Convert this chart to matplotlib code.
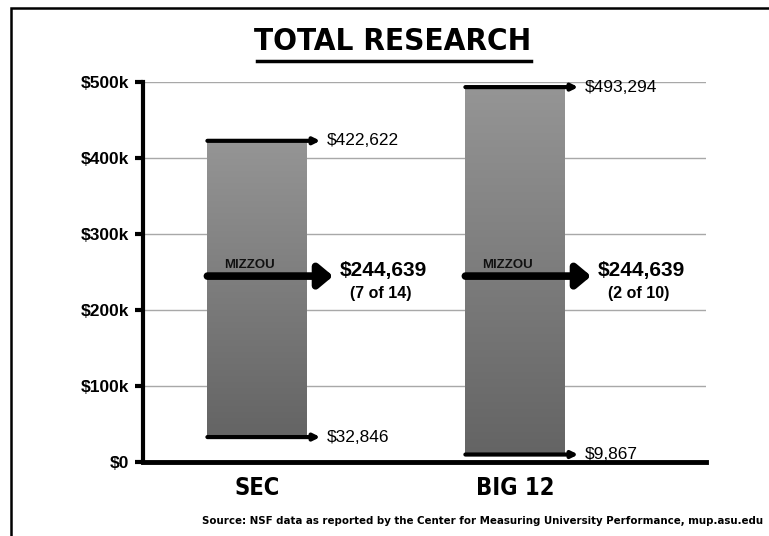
import numpy as np
import matplotlib.pyplot as plt
from matplotlib.patches import Rectangle
from matplotlib.colors import LinearSegmentedColormap

# Dati
groups = ['SEC', 'BIG 12']
highs = [422622, 493294]
lows = [32846, 9867]
mizzou = [244639, 244639]
ranks = ['(7 of 14)', '(2 of 10)']
yticks = [0, 100000, 200000, 300000, 400000, 500000]
ytick_labels = ['$0', '$100k', '$200k', '$300k', '$400k', '$500k']

plain = ['Liberation Sans', 'DejaVu Sans']
cond = dict(fontfamily='DejaVu Sans', fontstretch='condensed', fontweight='bold')

fig = plt.figure(figsize=(7.69, 5.36), dpi=100)
ax = fig.add_axes([0.186, 0.138, 0.732, 0.709])

x = np.arange(len(groups))
bar_w = 0.385
ax.set_xlim(-0.442, 1.74)
ax.set_ylim(0, 500000)

# griglia
for t in yticks[1:]:
    ax.axhline(t, color='#a8a8a8', lw=1, zorder=1)

# barre con sfumatura (chiaro in alto, scuro in basso)
cmap = LinearSegmentedColormap.from_list('bar', ['#959595', '#646464'])
grad = np.linspace(0, 1, 256).reshape(-1, 1)
for xi, lo, hi in zip(x, lows, highs):
    ax.imshow(grad, cmap=cmap, aspect='auto',
              extent=[xi - bar_w / 2, xi + bar_w / 2, lo, hi], zorder=2,
              origin='upper')

# frecce massimo / minimo
for xi, lo, hi in zip(x, lows, highs):
    for v in (hi, lo):
        ax.annotate('', xy=(xi + 0.245, v), xytext=(xi - bar_w / 2, v),
                    arrowprops=dict(arrowstyle='-|>', lw=3, color='black',
                                    mutation_scale=9, shrinkA=0, shrinkB=0),
                    zorder=4)
        ax.text(xi + 0.27, v, f'${v:,}', va='center', ha='left',
                fontsize=12.5, fontfamily=plain, color='black')

# freccia Mizzou
for xi, m, r in zip(x, mizzou, ranks):
    ax.annotate('', xy=(xi + 0.295, m), xytext=(xi - bar_w / 2, m),
                arrowprops=dict(arrowstyle='-|>,head_width=0.5,head_length=0.6',
                                lw=5.5, color='black', mutation_scale=14,
                                shrinkA=0, shrinkB=0),
                zorder=5)
    ax.text(xi - 0.03, m + 7000, 'MIZZOU', ha='center', va='bottom',
            fontsize=9.5, fontweight='bold', fontfamily=plain, color='#111111',
            zorder=5)
    ax.text(xi + 0.49, m, f'${m:,}', ha='center', va='baseline',
            fontsize=15, fontweight='bold', fontfamily=plain)
    ax.text(xi + 0.48, m - 13000, r, ha='center', va='top',
            fontsize=11.5, fontweight='bold', fontfamily=plain)

# assi
for s in ['top', 'right', 'bottom']:
    ax.spines[s].set_visible(False)
ax.spines['left'].set_linewidth(3)
ax.axhline(0, color='black', lw=3.5, zorder=6, clip_on=False)
ax.set_yticks(yticks)
ax.set_yticklabels(ytick_labels, fontsize=12.5, fontweight='bold', fontfamily=plain)
ax.tick_params(axis='y', length=6, width=3, pad=4)
ax.set_xticks(x)
ax.set_xticklabels(groups, fontsize=17, **cond)
ax.tick_params(axis='x', length=0, pad=10)

# titolo
fig.text(0.511, 0.922, 'TOTAL RESEARCH', ha='center', va='center',
         fontsize=22.5, **cond)
fig.add_artist(plt.Line2D([0.334, 0.69], [0.886, 0.886], color='black', lw=2.5))

# fonte
fig.text(0.993, 0.028, 'Source: NSF data as reported by the Center for Measuring '
         'University Performance, mup.asu.edu', ha='right', va='center',
         fontsize=8.2, **cond)

# cornice
fig.add_artist(Rectangle((0.0143, -0.1), 1.5, 1.085, transform=fig.transFigure,
                         fill=False, lw=1.8, edgecolor='black'))

fig.savefig('out.png', dpi=100)
